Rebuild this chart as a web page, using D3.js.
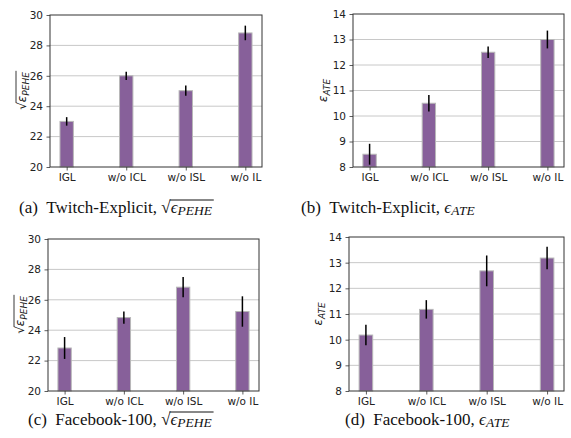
<!DOCTYPE html>
<html>
<head>
<meta charset="utf-8">
<script src="https://cdn.jsdelivr.net/npm/d3@7"></script>
<style>
  body { margin: 0; background: #fff; }
  svg { display: block; }
  .tick text { font-family: "DejaVu Sans", sans-serif; font-size: 10.5px; fill: #222; }
  .caption { font-family: "Liberation Serif", "DejaVu Serif", serif; font-size: 17px; fill: #111; }
</style>
</head>
<body>
<div id="container"></div>
<script>
/* DATA */
const categories = ["IGL", "w/o ICL", "w/o ISL", "w/o IL"];

const twitchPehe = [23.0, 26.0, 25.02, 28.82];
const twitchPeheErr = [0.28, 0.27, 0.34, 0.48];
const twitchAte = [8.5, 10.5, 12.5, 13.0];
const twitchAteErr = [0.41, 0.32, 0.23, 0.35];
const fbPehe = [22.83, 24.83, 26.83, 25.23];
const fbPeheErr = [0.72, 0.4, 0.67, 1.0];
const fbAte = [10.18, 11.18, 12.68, 13.18];
const fbAteErr = [0.4, 0.36, 0.6, 0.44];

const peheTicks = [20, 22, 24, 26, 28, 30];
const ateTicks = [8, 9, 10, 11, 12, 13, 14];

const width = 571, height = 438;

const panels = [
  { vals: twitchPehe, errs: twitchPeheErr, ticks: peheTicks, metric: "pehe",
    box: [50, 15, 262, 167], cap: "(a)", ds: "Twitch-Explicit,", capX: 19, capY: 213, labX: 26 },
  { vals: twitchAte, errs: twitchAteErr, ticks: ateTicks, metric: "ate",
    box: [353, 14, 564, 167], cap: "(b)", ds: "Twitch-Explicit,", capX: 301, capY: 213, labX: 327 },
  { vals: fbPehe, errs: fbPeheErr, ticks: peheTicks, metric: "pehe",
    box: [48, 239, 259, 391], cap: "(c)", ds: "Facebook-100,", capX: 28, capY: 425, labX: 24 },
  { vals: fbAte, errs: fbAteErr, ticks: ateTicks, metric: "ate",
    box: [349, 237, 564, 391], cap: "(d)", ds: "Facebook-100,", capX: 345, capY: 425, labX: 322 }
];

const svg = d3.select("#container").append("svg")
  .attr("width", width)
  .attr("height", height);

panels.forEach(p => {
  const [x0, y0, x1, y1] = p.box;
  const g = svg.append("g");

  const xScale = d3.scaleLinear().domain([-0.28, 3.28]).range([x0, x1]);
  const yScale = d3.scaleLinear().domain(d3.extent(p.ticks)).range([y1, y0]);
  const barW = xScale(0.225) - xScale(0);

  // grid
  g.selectAll("line.grid")
    .data(p.ticks.slice(1, -1))
    .join("line")
    .attr("x1", x0).attr("x2", x1)
    .attr("y1", d => yScale(d)).attr("y2", d => yScale(d))
    .attr("stroke", "#c8c8c8").attr("stroke-width", 1);

  // bars
  g.selectAll("rect.bar")
    .data(p.vals)
    .join("rect")
    .attr("x", (d, i) => xScale(i) - barW / 2)
    .attr("y", d => yScale(d))
    .attr("width", barW)
    .attr("height", d => yScale(p.ticks[0]) - yScale(d))
    .attr("fill", "#87609a")
    .attr("stroke", "#b8b8b8")
    .attr("stroke-width", 1);

  // error bars
  g.selectAll("line.err")
    .data(p.vals)
    .join("line")
    .attr("x1", (d, i) => xScale(i)).attr("x2", (d, i) => xScale(i))
    .attr("y1", (d, i) => yScale(d - p.errs[i]))
    .attr("y2", (d, i) => yScale(d + p.errs[i]))
    .attr("stroke", "#000").attr("stroke-width", 1.5);

  // axes
  const yAxis = d3.axisLeft(yScale).tickValues(p.ticks).tickSize(3.5).tickPadding(3.5).tickFormat(d3.format("d"));
  const xAxis = d3.axisBottom(xScale).tickValues([0, 1, 2, 3]).tickSize(3.5).tickPadding(3)
    .tickFormat(i => categories[i]);

  const ya = g.append("g").attr("transform", `translate(${x0},0)`).call(yAxis);
  const xa = g.append("g").attr("transform", `translate(0,${y1})`).call(xAxis);
  [ya, xa].forEach(a => {
    a.select(".domain").remove();
    a.selectAll(".tick line").attr("stroke", "#333").attr("stroke-width", 0.8);
  });

  g.append("rect")
    .attr("x", x0).attr("y", y0)
    .attr("width", x1 - x0).attr("height", y1 - y0)
    .attr("fill", "none").attr("stroke", "#333").attr("stroke-width", 1);

  // y label
  const cy = (y0 + y1) / 2;
  const lab = g.append("text")
    .attr("transform", `translate(${p.labX},${cy}) rotate(-90)`)
    .attr("text-anchor", "middle")
    .style("font-family", "DejaVu Sans, sans-serif")
    .style("font-size", "12px")
    .attr("fill", "#222");
  if (p.metric === "pehe") {
    lab.append("tspan").text("\u221A");
    lab.append("tspan").style("font-style", "italic").text("\u03B5");
    lab.append("tspan").style("font-style", "italic").style("font-size", "9px").attr("dy", 3).text("PEHE");
    const bb = lab.node().getBBox();
    // radical overline (in rotated coords)
    g.append("line")
      .attr("transform", `translate(${p.labX},${cy}) rotate(-90)`)
      .attr("x1", bb.x + 7).attr("x2", bb.x + bb.width + 1)
      .attr("y1", bb.y + 1).attr("y2", bb.y + 1)
      .attr("stroke", "#222").attr("stroke-width", 0.9);
  } else {
    lab.append("tspan").style("font-style", "italic").text("\u03B5");
    lab.append("tspan").style("font-style", "italic").style("font-size", "9px").attr("dy", 3).text("ATE");
  }

  // caption
  const cap = svg.append("text").attr("class", "caption")
    .attr("x", p.capX).attr("y", p.capY);
  const lead = p.cap + "\u2002" + p.ds + " ";
  cap.append("tspan").text(lead);
  if (p.metric === "pehe") {
    const rad = cap.append("tspan").text("\u221A");
    cap.append("tspan").style("font-style", "italic").text("\u03F5");
    cap.append("tspan").style("font-style", "italic").style("font-size", "13.5px").attr("dy", 2).text("PEHE");
    const bb = cap.node().getBBox();
    const rb = rad.node().getComputedTextLength();
    const start = cap.node().getSubStringLength(0, lead.length) + p.capX + rb - 1;
    svg.append("line")
      .attr("x1", start).attr("x2", bb.x + bb.width + 1)
      .attr("y1", bb.y + 2).attr("y2", bb.y + 2)
      .attr("stroke", "#111").attr("stroke-width", 1);
  } else {
    cap.append("tspan").style("font-style", "italic").text("\u03F5");
    cap.append("tspan").style("font-style", "italic").style("font-size", "13.5px").attr("dy", 2).text("ATE");
  }
});
</script>
</body>
</html>
